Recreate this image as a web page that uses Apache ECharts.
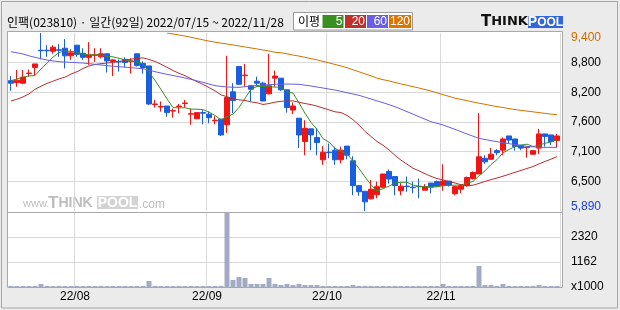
<!DOCTYPE html>
<html><head><meta charset="utf-8">
<script src="https://cdn.jsdelivr.net/npm/echarts@6/dist/echarts.min.js"></script>
<style>html,body{margin:0;padding:0;background:#ebebeb;}#c{width:620px;height:310px;}</style>
</head><body><div id="c"></div>
<script>
const dates = [
'2022/07/15','2022/07/18','2022/07/19','2022/07/20','2022/07/21','2022/07/22','2022/07/25','2022/07/26','2022/07/27','2022/07/28','2022/07/29',
'2022/08/01','2022/08/02','2022/08/03','2022/08/04','2022/08/05','2022/08/08','2022/08/09','2022/08/10','2022/08/11','2022/08/12','2022/08/16','2022/08/17','2022/08/18','2022/08/19','2022/08/22','2022/08/23','2022/08/24','2022/08/25','2022/08/26','2022/08/29','2022/08/30','2022/08/31',
'2022/09/01','2022/09/02','2022/09/05','2022/09/06','2022/09/07','2022/09/08','2022/09/13','2022/09/14','2022/09/15','2022/09/16','2022/09/19','2022/09/20','2022/09/21','2022/09/22','2022/09/23','2022/09/26','2022/09/27','2022/09/28','2022/09/29','2022/09/30',
'2022/10/04','2022/10/05','2022/10/06','2022/10/07','2022/10/11','2022/10/12','2022/10/13','2022/10/14','2022/10/17','2022/10/18','2022/10/19','2022/10/20','2022/10/21','2022/10/24','2022/10/25','2022/10/26','2022/10/27','2022/10/28','2022/10/31',
'2022/11/01','2022/11/02','2022/11/03','2022/11/04','2022/11/07','2022/11/08','2022/11/09','2022/11/10','2022/11/11','2022/11/14','2022/11/15','2022/11/16','2022/11/17','2022/11/18','2022/11/21','2022/11/22','2022/11/23','2022/11/24','2022/11/25','2022/11/28'];

const opens = [8460,8420,8410,8600,8720,9060,9060,9040,9070,9100,8950,9160,9000,8920,8960,8930,8990,8840,8840,8880,8840,8990,8800,8750,7990,7940,7960,7860,7950,8010,7800,7710,7830,7800,7670,7700,7590,8240,8740,8560,8360,8450,8410,8200,8510,8510,8280,7880,7720,7260,7510,7340,6900,7050,7090,6900,7170,6880,6390,6280,6130,6210,6360,6670,6570,6290,6380,6360,6380,6300,6440,6470,6390,6480,6230,6320,6390,6530,6620,6930,6910,7080,7090,7370,7310,7190,7140,7010,7130,7410,7390,7280];
const closes = [8410,8470,8530,8610,8790,9050,9050,9120,9060,8950,9010,8980,8920,8970,8970,8990,8850,8870,8830,8820,8850,8760,8720,8000,8000,7950,7830,7870,7960,8020,7810,7830,7820,7730,7680,7390,8130,8070,8390,8570,8290,8410,8060,8360,8550,8280,7930,7960,7390,7520,7390,7240,7050,7040,6900,7090,6990,6390,6270,6070,6320,6370,6620,6520,6390,6380,6370,6350,6370,6370,6360,6380,6480,6400,6370,6390,6550,6650,6960,6860,7010,7040,7310,7290,7160,7130,7150,7080,7410,7360,7260,7370];
const lows = [8260,8340,8390,8540,8570,8880,8930,8990,8930,8700,8870,8930,8870,8770,8830,8900,8620,8550,8640,8720,8600,8740,8600,7980,7930,7850,7750,7730,7820,7930,7590,7700,7600,7620,7600,7370,7430,7820,8370,8340,8050,8350,8050,8190,8340,8260,7830,7800,7130,6990,7090,6990,6800,6930,6800,6830,6910,6200,6190,5890,6120,6140,6340,6430,6200,6200,6270,6240,6140,6300,6240,6370,6290,6370,6200,6240,6370,6510,6620,6820,6900,6990,6990,7210,7080,7090,6940,7000,7010,7160,7190,7140];
const highs = [8550,8670,8670,8680,8790,9400,9160,9160,9180,9280,9080,9160,9100,9220,9100,9100,8990,8880,8880,8920,8900,8990,8840,8750,8080,8050,7960,7910,8000,8080,7910,7830,7880,7850,7760,7700,8950,8410,8740,8790,8370,8540,8440,8990,8660,8510,8280,8030,7720,7680,7510,7520,7170,7220,7160,7160,7170,6970,6390,6280,6500,6470,6620,6710,6570,6440,6570,6470,6530,6420,6440,6490,6810,6480,6380,6420,6570,6670,7820,6990,7130,7110,7340,7370,7310,7190,7160,7080,7510,7410,7390,7410];
const volumes = [50,45,50,45,50,140,50,45,50,50,45,50,45,50,45,50,45,50,45,50,45,50,50,280,50,45,50,45,50,45,50,45,50,45,50,50,3450,330,470,420,140,140,140,420,140,90,140,90,140,90,90,90,50,45,50,45,50,90,50,50,50,45,50,45,50,45,50,45,50,45,50,45,140,50,45,50,45,50,980,90,90,50,140,50,45,50,45,50,90,50,45,50];
// closes before 2022/07/15 (for the 5-day average)
const prevCloses = [8300,8350,8500,8740];
// 20-day average for the first 19 days
const ma20Head = [8059,8095,8140,8200,8290,8350,8407,8450,8495,8530,8590,8637,8700,8750,8780,8795,8808,8820,8835];
const ma60 = [9032,9010,8986,8950,8920,8893,8867,8850,8835,8828,8821,8815,8808,8795,8782,8769,8756,8746,8736,8726,8716,8706,8697,8667,8637,8611,8585,8562,8539,8512,8486,8456,8427,8394,8361,8348,8335,8331,8328,8341,8355,8364,8374,8381,8388,8391,8394,8391,8388,8371,8355,8335,8315,8295,8276,8250,8223,8197,8171,8135,8098,8062,8026,7987,7947,7898,7849,7800,7750,7700,7651,7618,7586,7543,7500,7454,7408,7365,7323,7300,7277,7257,7237,7218,7198,7181,7165,7155,7145,7145,7145,7145];
const ma120 = ['-','-','-','-','-','-','-','-','-','-','-','-','-','-','-','-','-','-','-','-','-','-','-','-','-','-',9400,9380,9360,9340,9315,9290,9265,9240,9220,9200,9183,9165,9145,9125,9105,9085,9065,9045,9020,9010,8990,8965,8945,8920,8895,8870,8840,8810,8780,8750,8716,8675,8635,8595,8555,8510,8480,8455,8425,8395,8370,8342,8315,8285,8255,8220,8185,8150,8115,8090,8065,8040,8015,7995,7970,7950,7930,7910,7890,7875,7860,7845,7830,7815,7800,7790];
const priceTickLabels = ['5,890','6,500','7,100','7,600','8,200','8,800','9,400'];
const volTickLabels = ['x1000','1162','2320',''];
const maNames = ['5','20','60','120'];
const maColors = ['#3a8f22','#c0302c','#6a5fe0','#dd7500'];

const full5 = prevCloses.concat(closes);
const ma5 = closes.map((c, i) => {
  let s = 0; for (let k = i; k < i + 5; k++) s += full5[k]; return Math.round(s / 5);
});
const ma20 = closes.map((c, i) => {
  if (i < 19) return ma20Head[i];
  let s = 0; for (let k = i - 19; k <= i; k++) s += closes[k]; return Math.round(s / 20);
});
const candles = dates.map((d, i) => [opens[i], closes[i], lows[i], highs[i]]);
const monthStart = dates.map((d, i) => i > 0 && d.slice(5, 7) !== dates[i - 1].slice(5, 7));

const FONT = '"Liberation Sans", "DejaVu Sans", sans-serif';
const LOGO = '"DejaVu Sans", "Liberation Sans", sans-serif';
const KFONT = '"Noto Sans CJK KR", "Liberation Sans", sans-serif';
const grid1 = { left: 8, top: 33, width: 552, height: 178 };
const grid2 = { left: 8, top: 212, width: 552, height: 75 };

const chart = echarts.init(document.getElementById('c'), null, { renderer: 'canvas', width: 620, height: 310 });

const legendX = [322.5, 345, 367, 389];
const legendW = [21, 21, 21, 22];
const legendEls = [];
maNames.forEach((n, k) => {
  legendEls.push({ type: 'rect', shape: { x: legendX[k], y: 15, width: legendW[k], height: 13 }, style: { fill: maColors[k] }, z: 10 });
  legendEls.push({ type: 'text', x: legendX[k] + legendW[k] - 1, y: 21.5, style: { text: n, fill: '#fff', font: '12px ' + FONT, align: 'right', verticalAlign: 'middle' }, z: 11 });
});

const option = {
  animation: false,
  backgroundColor: '#ebebeb',
  grid: [grid1, grid2],
  xAxis: [
    { type: 'category', gridIndex: 0, data: dates, boundaryGap: true,
      axisLine: { show: false }, axisTick: { show: false }, axisLabel: { show: false },
      splitLine: { show: true, interval: (i) => monthStart[i], lineStyle: { color: '#d9d9d9', width: 1 } } },
    { type: 'category', gridIndex: 1, data: dates, boundaryGap: true,
      axisLine: { show: false }, axisTick: { show: false },
      axisLabel: { show: true, interval: (i) => monthStart[i], formatter: (v) => v.slice(2, 7),
        margin: 4, color: '#000', fontFamily: FONT, fontSize: 12, padding: [0, 4, 0, 0] },
      splitLine: { show: true, interval: (i) => monthStart[i], lineStyle: { color: '#d9d9d9', width: 1 } } }
  ],
  yAxis: [
    { type: 'value', gridIndex: 0, position: 'right', min: 5890, max: 9400, interval: 585, scale: true,
      axisLine: { show: false }, axisTick: { show: false },
      splitLine: { show: true, showMinLine: false, showMaxLine: false, lineStyle: { color: '#d9d9d9', width: 1 } },
      axisLabel: { margin: 11, fontFamily: FONT, fontSize: 12, color: '#000', align: 'left',
        formatter: (v, idx) => idx === 0 ? '{lo|' + priceTickLabels[idx] + '}' : (idx === priceTickLabels.length - 1 ? '{hi|' + priceTickLabels[idx] + '}' : priceTickLabels[idx]),
        rich: { lo: { color: '#1c3fe0', fontFamily: FONT, fontSize: 12, padding: [0, 0, 8, 0] },
                hi: { color: '#d06c00', fontFamily: FONT, fontSize: 12, padding: [10, 0, 0, 0] } } } },
    { type: 'value', gridIndex: 1, position: 'right', min: 0, max: 3486, interval: 1162,
      axisLine: { show: false }, axisTick: { show: false },
      splitLine: { show: true, showMinLine: false, showMaxLine: false, lineStyle: { color: '#d9d9d9', width: 1 } },
      axisLabel: { margin: 11, fontFamily: FONT, fontSize: 12, color: '#000', align: 'left', showMaxLabel: false,
        formatter: (v, idx) => volTickLabels[idx] } }
  ],
  series: [
    { type: 'candlestick', xAxisIndex: 0, yAxisIndex: 0, data: candles, barWidth: 5, z: 3,
      itemStyle: { color: '#f01515', color0: '#1a5ee0', borderColor: '#f01515', borderColor0: '#1a5ee0', borderWidth: 1 } },
    { type: 'line', xAxisIndex: 0, yAxisIndex: 0, data: ma5, symbol: 'none', z: 4, lineStyle: { color: maColors[0], width: 1 } },
    { type: 'line', xAxisIndex: 0, yAxisIndex: 0, data: ma20, symbol: 'none', z: 4, lineStyle: { color: '#b83030', width: 1 } },
    { type: 'line', xAxisIndex: 0, yAxisIndex: 0, data: ma60, symbol: 'none', z: 4, lineStyle: { color: maColors[2], width: 1 } },
    { type: 'line', xAxisIndex: 0, yAxisIndex: 0, data: ma120, symbol: 'none', z: 4, clip: true, lineStyle: { color: '#d67000', width: 1 } },
    { type: 'bar', xAxisIndex: 1, yAxisIndex: 1, data: volumes, barWidth: 5, itemStyle: { color: '#a3aac4' } }
  ],
  graphic: [
    { type: 'rect', shape: { x: 1.5, y: 1.5, width: 616, height: 306.5 }, style: { fill: '#ebebeb', stroke: '#a6a6a6', lineWidth: 1 }, z: -20 },
    { type: 'rect', shape: { x: 7.5, y: 31.5, width: 555, height: 256 }, style: { fill: '#ffffff', stroke: '#a8a8a8', lineWidth: 1 }, z: -10 },
    { type: 'line', shape: { x1: 7.5, y1: 212.5, x2: 562.5, y2: 212.5 }, style: { stroke: '#a8a8a8', lineWidth: 1 }, z: 5 },
    { type: 'text', x: 7, y: 22, style: { text: '인팩(023810) · 일간(92일) 2022/07/15 ~ 2022/11/28', fill: '#000', font: '12px ' + KFONT, verticalAlign: 'middle' }, z: 10 },
    { type: 'rect', shape: { x: 293.5, y: 12.5, width: 119, height: 17.5 }, style: { fill: '#fff', stroke: '#9a9a9a', lineWidth: 1 }, z: 9 },
    { type: 'text', x: 298, y: 21.5, style: { text: '이평', fill: '#000', font: '12px ' + KFONT, verticalAlign: 'middle' }, z: 10 },
    ...legendEls,
    { type: 'text', x: 481, y: 22, style: { text: '{a|T}{b|HINK}', fill: '#111', verticalAlign: 'middle',
      rich: { a: { font: 'bold 15px ' + LOGO, fill: '#111' }, b: { font: 'bold 13px ' + LOGO, fill: '#111' } } }, z: 10 },
    { type: 'rect', shape: { x: 528, y: 16, width: 35, height: 12 }, style: { fill: '#3366dd' }, z: 10 },
    { type: 'text', x: 545.5, y: 22.5, style: { text: '{a|P}{b|OOL}', fill: '#fff', align: 'center', verticalAlign: 'middle',
      rich: { a: { font: 'bold 14px ' + FONT, fill: '#fff' }, b: { font: 'bold 12px ' + FONT, fill: '#fff' } } }, z: 11 },
    { type: 'text', x: 23, y: 204, style: { text: 'www.', fill: '#bdbdbd', font: '11px ' + FONT, verticalAlign: 'middle' }, z: -5 },
    { type: 'text', x: 48, y: 203, style: { text: '{a|T}{b|HINK}', fill: '#bdbdbd', verticalAlign: 'middle',
      rich: { a: { font: 'bold 17px ' + FONT, fill: '#bdbdbd' }, b: { font: 'bold 14px ' + FONT, fill: '#bdbdbd' } } }, z: -5 },
    { type: 'rect', shape: { x: 97, y: 196, width: 41, height: 13 }, style: { fill: '#d3d3d3' }, z: -6 },
    { type: 'text', x: 117.5, y: 203, style: { text: 'POOL', fill: '#fff', font: 'bold 14px ' + FONT, align: 'center', verticalAlign: 'middle' }, z: -5 },
    { type: 'text', x: 139, y: 205, style: { text: '.com', fill: '#bdbdbd', font: '12px ' + FONT, verticalAlign: 'middle' }, z: -5 }
  ]
};
chart.setOption(option);
</script>
</body></html>
